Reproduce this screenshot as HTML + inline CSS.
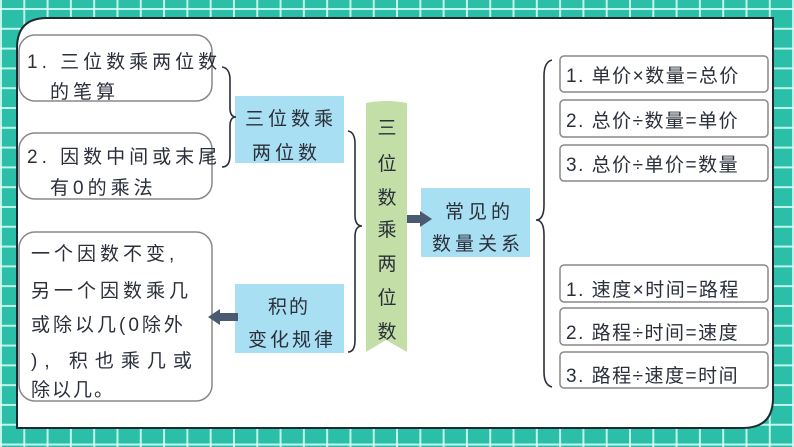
<!DOCTYPE html>
<html><head><meta charset="utf-8"><style>
html,body{margin:0;padding:0;}
body{width:794px;height:447px;overflow:hidden;position:relative;background-color:#2bbfaa;
background-image:linear-gradient(90deg,rgba(220,255,245,.85) 2px,transparent 2px),linear-gradient(0deg,rgba(220,255,245,.85) 2px,transparent 2px);
background-size:23.3px 19.8px;background-position:0px 0px,0px 10px;}
svg{position:absolute;left:0;top:0;}
text{font-family:"Liberation Sans","Noto Sans CJK SC",sans-serif;font-size:19px;fill:#2a2f3a;}
</style></head><body>
<svg width="794" height="447" viewBox="0 0 794 447">
<path d="M47,18 H773 V398 Q773,428 743,428 H17 V48 Q17,18 47,18 Z" fill="#fff" stroke="#1f2a30" stroke-width="2"/>
<g fill="#fff" stroke="#888" stroke-width="1.5">
<rect x="19" y="35" width="193" height="66" rx="16"/>
<rect x="19" y="133" width="193" height="66" rx="16"/>
<rect x="19" y="232" width="193" height="169" rx="16"/>
<rect x="560" y="56" width="208" height="36" rx="4"/>
<rect x="560" y="100" width="208" height="37" rx="4"/>
<rect x="560" y="145" width="208" height="36" rx="4"/>
<rect x="560" y="265" width="208" height="37" rx="4"/>
<rect x="560" y="308" width="208" height="37" rx="4"/>
<rect x="560" y="352" width="208" height="36" rx="4"/>
</g>
<g fill="#a8dff2">
<rect x="235" y="96" width="109" height="67"/>
<rect x="235" y="284" width="109" height="69"/>
<rect x="421" y="188" width="109" height="69"/>
</g>
<path d="M366,103 Q386,99 407,103 V352 L386,340 L366,352 Z" fill="#c3dea6"/>
<g fill="none" stroke="#2a2f3a" stroke-width="1.6">
<path d="M222,67 Q230,68 230,80 V108 Q230,117 236,117 Q230,117 230,126 V155 Q230,167 222,167"/>
<path d="M348,131 Q355,132 355,144 V215 Q355,226 362,226 Q355,226 355,237 V340 Q355,352 348,352"/>
<path d="M552,60 Q544,62 544,76 V205 Q544,220 536,220 Q544,220 544,235 V372 Q544,385 552,387"/>
</g>
<g fill="#4a5a70">
<rect x="218" y="313" width="20" height="8"/><path d="M208,317 L220,309 V325 Z"/>
<rect x="407" y="215" width="14" height="8"/><path d="M432,219 L420,211 V227 Z"/>
</g>
<g letter-spacing="4">
<text x="27" y="68">1. 三位数乘两位数</text>
<text x="50" y="98">的笔算</text>
<text x="27" y="163">2. 因数中间或末尾</text>
<text x="50" y="194">有0的乘法</text>
</g>
<text x="31" y="260" letter-spacing="4">一个因数不变,</text>
<text x="31" y="297" letter-spacing="4">另一个因数乘几</text>
<text x="31" y="331" letter-spacing="3">或除以几(0除外</text>
<text x="31" y="367" letter-spacing="7">), 积也乘几或</text>
<text x="31" y="396" letter-spacing="2">除以几。</text>
<text x="245" y="125" letter-spacing="4">三位数乘</text>
<text x="252" y="159" letter-spacing="4">两位数</text>
<text x="268" y="313" letter-spacing="2">积的</text>
<text x="248" y="346" letter-spacing="3">变化规律</text>
<text x="445" y="218" letter-spacing="4">常见的</text>
<text x="432" y="250" letter-spacing="4">数量关系</text>
<g text-anchor="middle">
<text x="387" y="134">三</text><text x="387" y="170">位</text><text x="387" y="204">数</text>
<text x="387" y="236">乘</text><text x="387" y="270">两</text><text x="387" y="304">位</text><text x="387" y="338">数</text>
</g>
<g letter-spacing="1.5">
<text x="566" y="82">1. 单价×数量=总价</text>
<text x="566" y="127">2. 总价÷数量=单价</text>
<text x="566" y="171">3. 总价÷单价=数量</text>
<text x="566" y="296">1. 速度×时间=路程</text>
<text x="566" y="339">2. 路程÷时间=速度</text>
<text x="566" y="382">3. 路程÷速度=时间</text>
</g>
</svg>
</body></html>
